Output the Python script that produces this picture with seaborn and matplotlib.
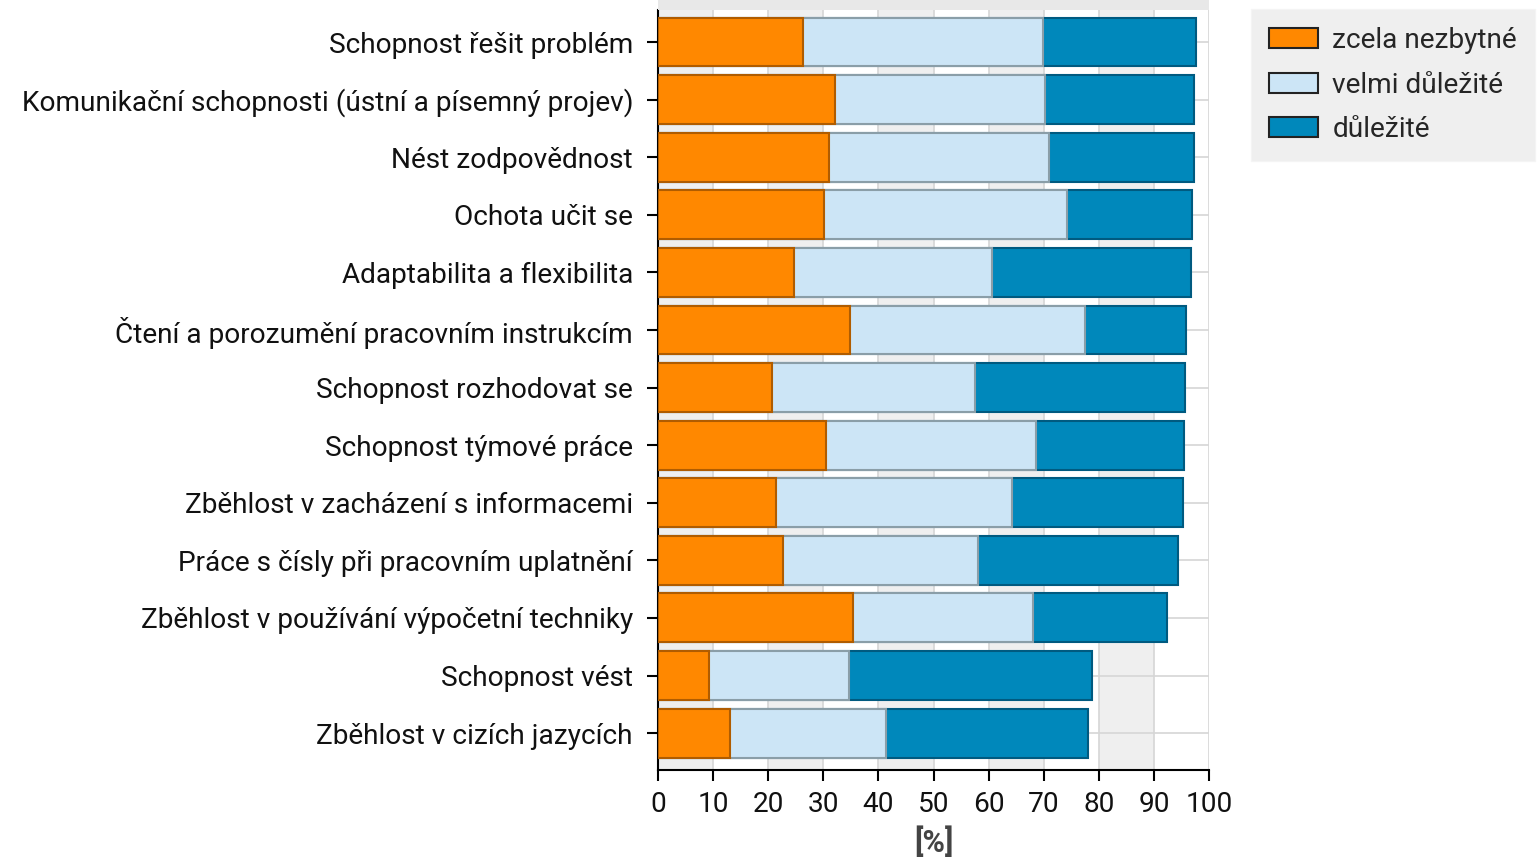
import matplotlib
matplotlib.use("Agg")
import matplotlib.pyplot as plt
from matplotlib.patches import Patch
import seaborn as sns
import pandas as pd
import numpy as np

categories = [
    "Schopnost řešit problém",
    "Komunikační schopnosti (ústní a písemný projev)",
    "Nést zodpovědnost",
    "Ochota učit se",
    "Adaptabilita a flexibilita",
    "Čtení a porozumění pracovním instrukcím",
    "Schopnost rozhodovat se",
    "Schopnost týmové práce",
    "Zběhlost v zacházení s informacemi",
    "Práce s čísly při pracovním uplatnění",
    "Zběhlost v používání výpočetní techniky",
    "Schopnost vést",
    "Zběhlost v cizích jazycích",
]
zcela_nezbytne = [26.3, 32.2, 31.1, 30.2, 24.6, 34.9, 20.6, 30.4, 21.5, 22.7, 35.3, 9.2, 13.1]
velmi_dulezite = [43.5, 38.0, 39.8, 44.1, 36.1, 42.6, 36.9, 38.2, 42.8, 35.3, 32.7, 25.5, 28.3]
dulezite = [27.9, 27.1, 26.4, 22.6, 36.0, 18.3, 38.1, 26.9, 30.9, 36.3, 24.4, 44.0, 36.7]
series_names = ["zcela nezbytné", "velmi důležité", "důležité"]
x_ticks = [0, 10, 20, 30, 40, 50, 60, 70, 80, 90, 100]

colors = ["#ff8800", "#cce5f6", "#0088bb"]
edges = ["#b05c00", "#8a9ea8", "#005a80"]

df = pd.DataFrame({
    "cat": categories,
    "a": zcela_nezbytne,
    "b": velmi_dulezite,
    "c": dulezite,
})
df["ab"] = df["a"] + df["b"]
df["abc"] = df["ab"] + df["c"]

sns.set_theme(style="white")
plt.rcParams["font.family"] = ["Roboto", "DejaVu Sans"]
FS = 20.2

fig = plt.figure(figsize=(15.37, 8.6), dpi=100)
ax = fig.add_axes([658 / 1537, 1 - 770 / 860, (1209 - 658) / 1537, 760 / 860])

for i in range(0, 100, 20):
    ax.axvspan(i, i + 10, color="#efefef", zorder=0, lw=0)

for col, c, e in [("abc", colors[2], edges[2]), ("ab", colors[1], edges[1]), ("a", colors[0], edges[0])]:
    sns.barplot(data=df, x=col, y="cat", order=categories, orient="h", color=c,
                edgecolor=e, linewidth=1.5, width=0.85, saturation=1, ax=ax, zorder=3)

ax.set_xlim(0, 100)
ax.set_ylim(12.64, -0.556)
ax.set_xticks(x_ticks)
ax.set_xticklabels([str(t) for t in x_ticks])
ax.tick_params(axis="both", which="major", direction="out", length=8, width=1.5,
               color="black", labelsize=FS, labelcolor="#111111",
               bottom=True, left=True)
ax.tick_params(axis="x", pad=7)
ax.tick_params(axis="y", pad=10)
ax.set_ylabel("")
ax.set_xlabel("[%]", fontsize=22, fontweight="bold", color="#444444", labelpad=6)
ax.grid(True, axis="both", color="#d6d6d6", lw=1.2, zorder=1)
ax.set_axisbelow(True)
for s in ["top", "right"]:
    ax.spines[s].set_visible(False)
for s in ["left", "bottom"]:
    ax.spines[s].set_color("black")
    ax.spines[s].set_linewidth(1.5)

fig.patches.append(plt.Rectangle((658 / 1537, 1 - 10 / 860), (1209 - 658) / 1537, 10 / 860,
                                 transform=fig.transFigure, color="#e8e8e8", lw=0))

handles = [Patch(facecolor=colors[k], edgecolor="#222222", linewidth=1.5, label=series_names[k]) for k in range(3)]
leg = fig.legend(handles=handles, loc="upper left", bbox_to_anchor=(1251 / 1537, 1 - 9 / 860),
                 frameon=True, fontsize=FS, handlelength=1.75, handleheight=0.72,
                 handletextpad=0.5, labelspacing=0.62, borderpad=0.65, fancybox=False,
                 borderaxespad=0)
leg.get_frame().set_facecolor("#ebebeb")
leg.get_frame().set_edgecolor("#f4f4f4")

fig.savefig("out.png", dpi=100)
